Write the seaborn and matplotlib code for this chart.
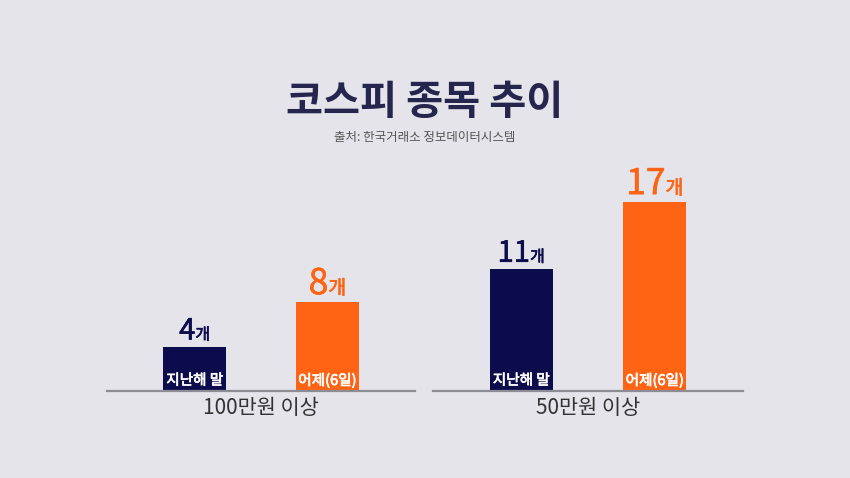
import pandas as pd
import matplotlib.pyplot as plt
import matplotlib.patheffects as pe
import seaborn as sns
from matplotlib.offsetbox import TextArea, HPacker, AnnotationBbox

# 데이터
그룹 = ['100만원 이상', '50만원 이상']
기간 = ['지난해 말', '어제(6일)']
지난해말_종목수 = [4, 11]
어제_종목수 = [8, 17]

배경색 = '#e4e4ea'
남색 = '#0c0b4c'
주황 = '#ff6414'

sns.set_theme(style='white')
plt.rcParams['font.family'] = ['Noto Sans CJK KR', 'DejaVu Sans']
plt.rcParams['axes.facecolor'] = 배경색

df = pd.DataFrame({
    '그룹': [g for g in 그룹 for _ in 기간],
    '기간': 기간 * len(그룹),
    '종목수': [v for pair in zip(지난해말_종목수, 어제_종목수) for v in pair],
})

fig = plt.figure(figsize=(8.5, 4.78), dpi=100, facecolor=배경색)
위치 = [[0.1259, 0.1820, 0.3624, 0.4603], [0.5094, 0.1820, 0.3647, 0.4603]]

for i, g in enumerate(그룹):
    ax = fig.add_axes(위치[i])
    sub = df[df['그룹'] == g]
    sns.barplot(data=sub, x='기간', y='종목수', hue='기간', order=기간, hue_order=기간,
                palette=[남색, 주황], width=0.47, legend=False, ax=ax, saturation=1,
                linewidth=0, edgecolor='none')
    ax.set_xlim(-0.66, 1.66)
    ax.set_ylim(0, 19.8)
    ax.set_xticks([])
    ax.set_yticks([])
    ax.set_ylabel('')
    ax.set_xlabel(g, fontsize=15, color='#333333', labelpad=4)
    for s in ['top', 'left', 'right']:
        ax.spines[s].set_visible(False)
    ax.spines['bottom'].set_color('#8c8c94')
    ax.spines['bottom'].set_linewidth(1.6)

    for j, (p, v) in enumerate(zip(sub['기간'], sub['종목수'])):
        색 = 남색 if j == 0 else 주황
        크기 = 21 if j == 0 else 25.5
        살짝굵게 = [pe.withStroke(linewidth=0.45, foreground=색)]
        # 막대 안쪽 라벨
        ax.annotate(p, xy=(j, 0), xytext=(0, 7.5), textcoords='offset points',
                    ha='center', va='center', color='white', fontsize=10.5,
                    path_effects=[pe.withStroke(linewidth=0.5, foreground='white')])
        # 막대 위 값 라벨 (숫자 + 개)
        숫자 = TextArea(str(v), textprops=dict(color=색, fontsize=크기, path_effects=살짝굵게))
        단위 = TextArea('개', textprops=dict(color=색, fontsize=크기 * 0.55, path_effects=살짝굵게))
        묶음 = HPacker(children=[숫자, 단위], align='baseline', pad=0, sep=0)
        ab = AnnotationBbox(묶음, (j, v), xybox=(0, 0), boxcoords='offset points',
                            box_alignment=(0.5, 0), frameon=False)
        ax.add_artist(ab)

fig.text(0.5, 0.785, '코스피 종목 추이', ha='center', va='center', fontsize=29,
         fontweight='bold', color='#26254d')
fig.text(0.5, 0.712, '출처: 한국거래소 정보데이터시스템', ha='center', va='center',
         fontsize=9, color='#555555')

plt.savefig('out.png', dpi=100, facecolor=배경색)
